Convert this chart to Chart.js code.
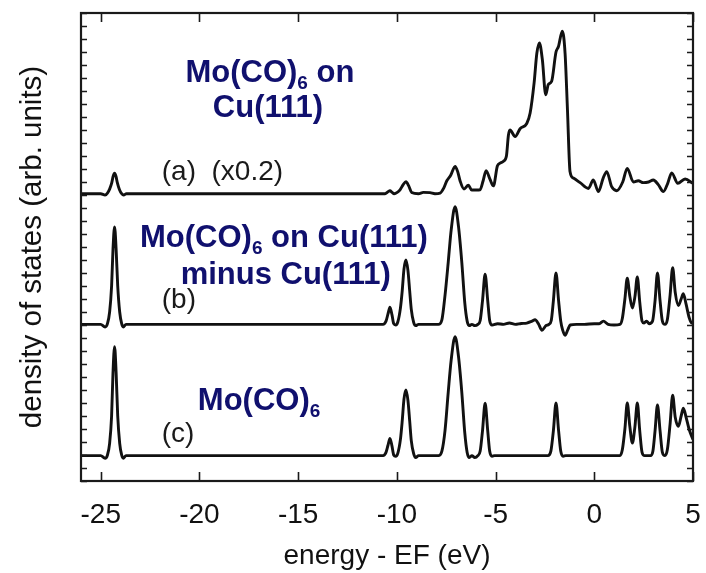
<!DOCTYPE html>
<html><head><meta charset="utf-8">
<script src="https://cdn.jsdelivr.net/npm/chart.js@4"></script>
<style>html,body{margin:0;padding:0;background:#fff}</style>
</head><body>
<canvas id="c" width="706" height="573"></canvas>
<script>
const xTickValues = [-25, -20, -15, -10, -5, 0, 5];

// (a) Mo(CO)6 on Cu(111), x0.2, offset upward
const energyA = [-26, -25.0, -24.78, -24.66, -24.55, -24.44, -24.37, -24.3, -24.23, -24.16, -24.05, -23.94, -23.84, -23.7,
  -11.0, -10.6, -10.45, -10.35, -10.24, -10.14, -9.98, -9.84, -9.68, -9.54, -9.4, -9.25, -8.91, -8.66, -8.32, -8.07,
  -7.81, -7.62, -7.47, -7.28, -7.05, -6.92, -6.8, -6.6, -6.38, -6.21, -5.96, -5.79, -5.63, -5.48, -5.28, -5.11,
  -4.91, -4.77, -4.6, -4.45, -4.35, -4.27, -4.01, -3.76, -3.42, -3.25, -3.05, -2.91, -2.78, -2.63, -2.46, -2.33,
  -2.16, -1.94, -1.82, -1.62, -1.48, -1.36, -1.23, -1.06, -0.72, -0.3, -0.05, 0.21, 0.45, 0.63, 0.88, 1.14,
  1.44, 1.67, 1.98, 2.23, 2.48, 2.75, 2.99, 3.24, 3.5, 3.72, 3.92, 4.23, 4.6, 5.0];
const dosA = [22.1, 22.1, 22.0, 22.15, 22.45, 22.95, 23.45, 23.67, 23.45, 22.95, 22.4, 22.1, 22.0, 22.1,
  22.1, 22.1, 22.25, 22.33, 22.2, 22.1, 22.2, 22.4, 22.8, 23.03, 22.7, 22.2, 22.1, 22.2, 22.18, 22.1,
  22.15, 22.55, 23.1, 23.5, 24.2, 23.8, 23.1, 22.46, 22.75, 22.38, 22.38, 22.4, 23.1, 23.87, 23.2, 22.7,
  24.23, 24.45, 24.6, 25.0, 26.6, 27.0, 26.5, 27.1, 27.5, 28.3, 30.6, 32.9, 33.7, 32.4, 29.7, 30.5,
  30.75, 33.0, 33.4, 34.6, 32.9, 28.6, 23.8, 23.3, 22.95, 22.5, 23.15, 22.26, 23.3, 23.8, 22.64, 22.33,
  23.0, 24.05, 23.0, 23.1, 22.95, 23.0, 23.15, 22.8, 22.26, 22.9, 23.7, 22.9, 23.23, 22.9];

// (b) Mo(CO)6 on Cu(111) minus Cu(111)
const energyB = [-26, -25.0, -24.78, -24.66, -24.55, -24.45, -24.38, -24.3, -24.22, -24.14, -24.04, -23.94, -23.86, -23.72,
  -10.7, -10.55, -10.45, -10.35, -10.25, -10.16, -10.06, -9.95, -9.82, -9.73, -9.64, -9.54, -9.44, -9.35, -9.27, -9.15, -9.05, -8.9,
  -7.9, -7.72, -7.56, -7.4, -7.25, -7.05, -6.88, -6.71, -6.56, -6.44, -6.33, -6.2, -6.05, -5.9,
  -5.78, -5.66, -5.53, -5.4, -5.3, -5.18, -4.9, -4.6, -4.3, -4.0, -3.7, -3.42, -3.15, -3.0, -2.83, -2.65, -2.45, -2.3,
  -2.18, -2.07, -1.94, -1.81, -1.7, -1.6, -1.48, -1.35, -1.22, -0.9, -0.5, 0.0, 0.25, 0.46, 0.7, 1.0, 1.3,
  1.42, 1.55, 1.67, 1.8, 1.93, 2.06, 2.18, 2.3, 2.42, 2.52, 2.65, 2.78, 2.95, 3.08, 3.2, 3.33, 3.45, 3.58,
  3.7, 3.84, 3.97, 4.1, 4.26, 4.4, 4.51, 4.65, 4.8, 4.94, 5.0];
const dosB = [12.05, 12.05, 11.85, 12.1, 13.0, 15.0, 17.8, 19.55, 17.8, 15.0, 13.0, 12.1, 11.85, 12.05,
  12.05, 12.3, 12.85, 13.36, 12.8, 12.1, 12.0, 12.25, 13.3, 14.6, 16.3, 17.0, 16.2, 14.6, 13.2, 12.2, 11.95, 12.05,
  12.05, 12.4, 14.3, 16.8, 19.3, 21.1, 19.6, 16.8, 13.7, 12.3, 11.95, 12.05, 11.95, 12.05,
  12.35, 13.9, 15.9, 13.9, 12.35, 12.0, 12.1, 12.05, 12.15, 12.05, 12.12, 12.15, 12.3, 12.4, 12.1, 11.6, 11.95, 12.05,
  12.35, 13.9, 16.0, 13.9, 12.3, 11.6, 11.2, 11.6, 12.0, 12.05, 12.05, 12.1, 12.1, 12.3, 12.05, 12.0, 12.05,
  12.5, 14.0, 15.6, 14.2, 13.3, 14.2, 15.7, 13.8, 12.3, 12.15, 12.3, 12.1, 12.3, 13.9, 16.0, 13.9, 12.3, 12.05,
  12.4, 14.3, 16.4, 14.5, 13.5, 14.0, 14.4, 13.6, 12.6, 12.15, 12.2];

// (c) Mo(CO)6
const energyC = [-26, -25.0, -24.78, -24.66, -24.55, -24.45, -24.38, -24.3, -24.22, -24.14, -24.04, -23.94, -23.86, -23.72,
  -10.7, -10.55, -10.45, -10.35, -10.25, -10.16, -10.06, -9.95, -9.82, -9.73, -9.64, -9.54, -9.44, -9.35, -9.27, -9.15, -9.05, -8.9,
  -7.9, -7.72, -7.56, -7.4, -7.25, -7.05, -6.88, -6.71, -6.56, -6.44, -6.33, -6.2, -6.05, -5.9,
  -5.78, -5.66, -5.53, -5.4, -5.3, -5.18, -5.05, -2.35, -2.2, -2.07, -1.94, -1.81, -1.7, -1.58, -1.45,
  1.3, 1.42, 1.55, 1.67, 1.8, 1.93, 2.06, 2.18, 2.3, 2.42, 2.55, 2.85, 2.97, 3.08, 3.2, 3.33, 3.45, 3.58,
  3.7, 3.84, 3.97, 4.1, 4.26, 4.4, 4.51, 4.65, 4.8, 4.94, 5.0];
const dosC = [1.95, 1.95, 1.75, 2.0, 2.9, 5.0, 8.3, 10.33, 8.3, 5.0, 2.9, 2.0, 1.75, 1.95,
  1.95, 2.2, 2.75, 3.28, 2.7, 2.0, 1.9, 2.15, 3.2, 4.6, 6.3, 7.0, 6.2, 4.6, 3.1, 2.1, 1.8, 1.95,
  1.95, 2.3, 3.9, 6.8, 9.3, 11.1, 9.6, 6.8, 3.7, 2.2, 1.8, 1.95, 1.8, 1.95,
  2.3, 3.9, 5.98, 3.9, 2.3, 1.9, 1.95, 1.95, 2.3, 3.9, 6.0, 3.9, 2.3, 1.9, 1.95,
  1.95, 2.4, 4.0, 6.0, 4.2, 2.92, 4.2, 6.0, 3.9, 2.2, 1.95, 1.95, 2.3, 3.9, 5.85, 3.9, 2.2, 1.95,
  2.4, 4.4, 6.6, 4.9, 4.2, 5.0, 5.6, 4.9, 4.0, 3.4, 3.2];

// in-plot annotations: text segments ([text, isSubscript]) and anchor in data units
const annotations = [
  {segs: [['Mo(CO)'], ['6', 1], [' on']], e: -16.43, v: 30.7, align: 'center', kind: 'bold'},
  {segs: [['Cu(111)']], e: -16.53, v: 27.98, align: 'center', kind: 'bold'},
  {segs: [['(a)  (x0.2)']], e: -21.91, v: 23.15, align: 'left', kind: 'plain'},
  {segs: [['Mo(CO)'], ['6', 1], [' on Cu(111)']], e: -15.72, v: 18.02, align: 'center', kind: 'bold'},
  {segs: [['minus Cu(111)']], e: -15.63, v: 15.15, align: 'center', kind: 'bold'},
  {segs: [['(b)']], e: -21.91, v: 13.33, align: 'left', kind: 'plain'},
  {segs: [['Mo(CO)'], ['6', 1]], e: -16.98, v: 5.46, align: 'center', kind: 'bold'},
  {segs: [['(c)']], e: -21.91, v: 3.0, align: 'left', kind: 'plain'}
];

const FAMILY = '"Liberation Sans", Arial, Helvetica, sans-serif';
const toPts = (xs, ys) => xs.map((x, i) => ({x: x, y: ys[i]}));

const framePlugin = {
  id: 'frame',
  afterDatasetsDraw(chart) {
    const {ctx, chartArea: a, scales: {x, y}} = chart;
    ctx.save();
    ctx.strokeStyle = '#1a1a1a';
    ctx.lineWidth = 1.6;
    ctx.beginPath();
    x.ticks.forEach(t => {
      const px = Math.round(x.getPixelForValue(t.value)) + 0.5;
      ctx.moveTo(px, a.bottom); ctx.lineTo(px, a.bottom - 9);
      ctx.moveTo(px, a.top); ctx.lineTo(px, a.top + 9);
    });
    y.ticks.forEach(t => {
      const py = Math.round(y.getPixelForValue(t.value)) + 0.5;
      ctx.moveTo(a.left, py); ctx.lineTo(a.left + 6, py);
      ctx.moveTo(a.right, py); ctx.lineTo(a.right - 6, py);
    });
    ctx.stroke();
    ctx.lineWidth = 2.2;
    ctx.strokeRect(a.left, a.top, a.right - a.left, a.bottom - a.top);
    ctx.restore();
  },
  afterDraw(chart) {
    const {ctx, scales: {x, y}} = chart;
    ctx.save();
    ctx.textBaseline = 'alphabetic';
    ctx.textAlign = 'left';
    annotations.forEach(an => {
      const bold = an.kind === 'bold';
      const mainFont = bold ? 'bold 31px ' + FAMILY : '28px ' + FAMILY;
      const subFont = 'bold 19px ' + FAMILY;
      ctx.fillStyle = bold ? '#10106e' : '#1a1a1a';
      let w = 0;
      const widths = an.segs.map(s => { ctx.font = s[1] ? subFont : mainFont; const m = ctx.measureText(s[0]).width; w += m; return m; });
      let cx = x.getPixelForValue(an.e);
      const by = y.getPixelForValue(an.v);
      if (an.align === 'center') cx -= w / 2;
      an.segs.forEach((s, i) => {
        ctx.font = s[1] ? subFont : mainFont;
        ctx.fillText(s[0], cx, by + (s[1] ? 7 : 0));
        cx += widths[i];
      });
    });
    ctx.restore();
  }
};

const lineStyle = {borderColor: '#111', borderWidth: 2.9, pointRadius: 0, fill: false, cubicInterpolationMode: 'monotone'};

new Chart(document.getElementById('c'), {
  type: 'line',
  data: {
    datasets: [
      Object.assign({data: toPts(energyA, dosA)}, lineStyle),
      Object.assign({data: toPts(energyB, dosB)}, lineStyle),
      Object.assign({data: toPts(energyC, dosC)}, lineStyle)
    ]
  },
  options: {
    responsive: false,
    animation: false,
    events: [],
    layout: {padding: {top: 13, right: 13, left: 0, bottom: 0}},
    plugins: {legend: {display: false}, tooltip: {enabled: false}},
    scales: {
      x: {
        type: 'linear', min: -26, max: 5,
        afterBuildTicks: s => { s.ticks = xTickValues.map(v => ({value: v})); },
        afterFit: s => { s.height = 92; s.paddingLeft = 0; s.paddingRight = 0; },
        grid: {display: false, drawTicks: false},
        border: {display: false},
        ticks: {font: {family: FAMILY, size: 28}, color: '#111', padding: 17, maxRotation: 0, autoSkip: false,
                callback: v => String(v)},
        title: {display: true, text: 'energy - EF (eV)', font: {family: FAMILY, size: 28}, color: '#111',
                padding: {top: 0, bottom: 0}}
      },
      y: {
        type: 'linear', min: 0, max: 36,
        afterFit: s => { s.width = 81; },
        ticks: {display: false, stepSize: 1},
        grid: {display: false, drawTicks: false},
        border: {display: false},
        title: {display: true, text: 'density of states (arb. units)', font: {family: FAMILY, size: 29.5}, color: '#111',
                padding: {top: 15, bottom: 0}}
      }
    }
  },
  plugins: [framePlugin]
});
</script>
</body></html>
